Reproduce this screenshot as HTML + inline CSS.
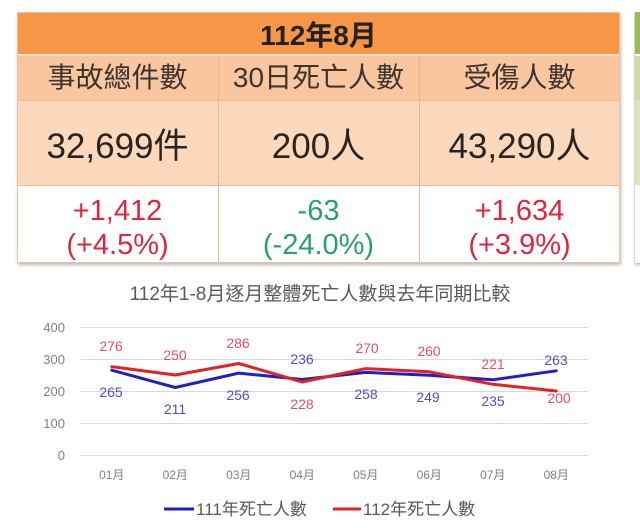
<!DOCTYPE html>
<html>
<head>
<meta charset="utf-8">
<style>
html,body{margin:0;padding:0;background:#ffffff;}
body{width:640px;height:528px;overflow:hidden;}
svg{display:block;}
text{font-family:"Liberation Sans","Noto Sans CJK TC","Noto Sans CJK SC",sans-serif;}
</style>
</head>
<body>
<svg width="640" height="528" viewBox="0 0 640 528" xmlns="http://www.w3.org/2000/svg">
  <defs>
    <filter id="sh" x="-5%" y="-5%" width="110%" height="115%">
      <feDropShadow dx="1" dy="2" stdDeviation="1.5" flood-color="#000" flood-opacity="0.28"/>
    </filter>
  </defs>
  <rect width="640" height="528" fill="#ffffff"/>

  <!-- Table -->
  <g filter="url(#sh)">
    <rect x="17" y="12" width="603" height="251" fill="#ffffff"/>
  </g>
  <rect x="17" y="12" width="603" height="42" fill="#f79646"/>
  <rect x="17" y="54" width="603" height="2" fill="#fde3cf"/>
  <rect x="17" y="56" width="603" height="44" fill="#f9c6a0"/>
  <rect x="17" y="100" width="603" height="85" fill="#fcd8bc"/>
  <rect x="17" y="185" width="603" height="78" fill="#ffffff"/>
  <line x1="17" y1="100.5" x2="620" y2="100.5" stroke="#f5bb90" stroke-width="1"/>
  <line x1="17" y1="185.5" x2="620" y2="185.5" stroke="#f1b486" stroke-width="1"/>
  <line x1="218.5" y1="56" x2="218.5" y2="263" stroke="#f1b486" stroke-width="1"/>
  <line x1="419.5" y1="56" x2="419.5" y2="263" stroke="#f1b486" stroke-width="1"/>
  <rect x="17.5" y="12.5" width="602" height="250" fill="none" stroke="#eec2a0" stroke-width="1"/>

  <!-- Green panel edge -->
  <g filter="url(#sh)">
    <rect x="634" y="12" width="10" height="251" fill="#ffffff"/>
  </g>
  <rect x="635" y="12" width="6" height="42" fill="#9bbb59"/>
  <rect x="635" y="56" width="6" height="44" fill="#cfdaa6"/>
  <rect x="635" y="100" width="6" height="85" fill="#dde5bc"/>
  <line x1="634.5" y1="12" x2="634.5" y2="263" stroke="#d8d8d8" stroke-width="1"/>

  <!-- Table text -->
  <text x="318.5" y="45" font-size="28" font-weight="bold" fill="#222" text-anchor="middle">112年8月</text>

  <text x="117.5" y="87" font-size="28" fill="#3d3430" text-anchor="middle">事故總件數</text>
  <text x="318.5" y="87" font-size="28" fill="#3d3430" text-anchor="middle">30日死亡人數</text>
  <text x="519.5" y="87" font-size="28" fill="#3d3430" text-anchor="middle">受傷人數</text>

  <text x="117.5" y="158" font-size="35" fill="#2a2420" text-anchor="middle">32,699件</text>
  <text x="318.5" y="158" font-size="35" fill="#2a2420" text-anchor="middle">200人</text>
  <text x="519.5" y="158" font-size="35" fill="#2a2420" text-anchor="middle">43,290人</text>

  <text x="117.5" y="220" font-size="29" fill="#df2540" text-anchor="middle">+1,412</text>
  <text x="117.5" y="254" font-size="29" fill="#df2540" text-anchor="middle">(+4.5%)</text>
  <text x="318.5" y="220" font-size="29" fill="#2a9f6e" text-anchor="middle">-63</text>
  <text x="318.5" y="254" font-size="29" fill="#2a9f6e" text-anchor="middle">(-24.0%)</text>
  <text x="519.5" y="220" font-size="29" fill="#df2540" text-anchor="middle">+1,634</text>
  <text x="519.5" y="254" font-size="29" fill="#df2540" text-anchor="middle">(+3.9%)</text>

  <!-- Chart title -->
  <text x="320" y="300" font-size="19" fill="#595959" text-anchor="middle">112年1-8月逐月整體死亡人數與去年同期比較</text>

  <!-- Gridlines -->
  <g stroke="#d9d9d9" stroke-width="1">
    <line x1="80" y1="327.5" x2="588" y2="327.5"/>
    <line x1="80" y1="359.5" x2="588" y2="359.5"/>
    <line x1="80" y1="391.5" x2="588" y2="391.5"/>
    <line x1="80" y1="423.5" x2="588" y2="423.5"/>
    <line x1="80" y1="455.5" x2="588" y2="455.5"/>
  </g>
  <g font-size="13" fill="#808080" text-anchor="end">
    <text x="65" y="332">400</text>
    <text x="65" y="364">300</text>
    <text x="65" y="396">200</text>
    <text x="65" y="428">100</text>
    <text x="65" y="460">0</text>
  </g>
  <g font-size="12" fill="#808080" text-anchor="middle">
    <text x="111.75" y="479">01月</text>
    <text x="175.25" y="479">02月</text>
    <text x="238.75" y="479">03月</text>
    <text x="302.25" y="479">04月</text>
    <text x="365.75" y="479">05月</text>
    <text x="429.25" y="479">06月</text>
    <text x="492.75" y="479">07月</text>
    <text x="556.25" y="479">08月</text>
  </g>

  <!-- Series -->
  <polyline fill="none" stroke="#1f1fc8" stroke-width="3" stroke-linejoin="round" stroke-linecap="round"
    points="111.75,370.2 175.25,387.5 238.75,373.1 302.25,379.5 365.75,372.4 429.25,375.3 492.75,379.8 556.25,370.8"/>
  <polyline fill="none" stroke="#e42222" stroke-width="3" stroke-linejoin="round" stroke-linecap="round"
    points="111.75,366.7 175.25,375 238.75,363.5 302.25,382 365.75,368.6 429.25,371.8 492.75,384.3 556.25,391"/>

  <!-- Data labels -->
  <g font-size="14" fill="#e4505e" text-anchor="middle">
    <text x="111" y="351">276</text>
    <text x="175" y="360">250</text>
    <text x="238" y="348">286</text>
    <text x="302" y="409">228</text>
    <text x="367" y="353">270</text>
    <text x="429" y="356">260</text>
    <text x="493" y="369">221</text>
    <text x="559" y="403">200</text>
  </g>
  <g font-size="14" fill="#4f4fc4" text-anchor="middle">
    <text x="111" y="397">265</text>
    <text x="175" y="414">211</text>
    <text x="238" y="400">256</text>
    <text x="302" y="364">236</text>
    <text x="366" y="399">258</text>
    <text x="428" y="402">249</text>
    <text x="493" y="406">235</text>
    <text x="556" y="365">263</text>
  </g>

  <!-- Legend -->
  <line x1="164" y1="509" x2="194" y2="509" stroke="#1f1fc8" stroke-width="3"/>
  <text x="196" y="515" font-size="17" fill="#595959">111年死亡人數</text>
  <line x1="333" y1="509" x2="361" y2="509" stroke="#e42222" stroke-width="3"/>
  <text x="363" y="515" font-size="17" fill="#595959">112年死亡人數</text>
</svg>
</body>
</html>
